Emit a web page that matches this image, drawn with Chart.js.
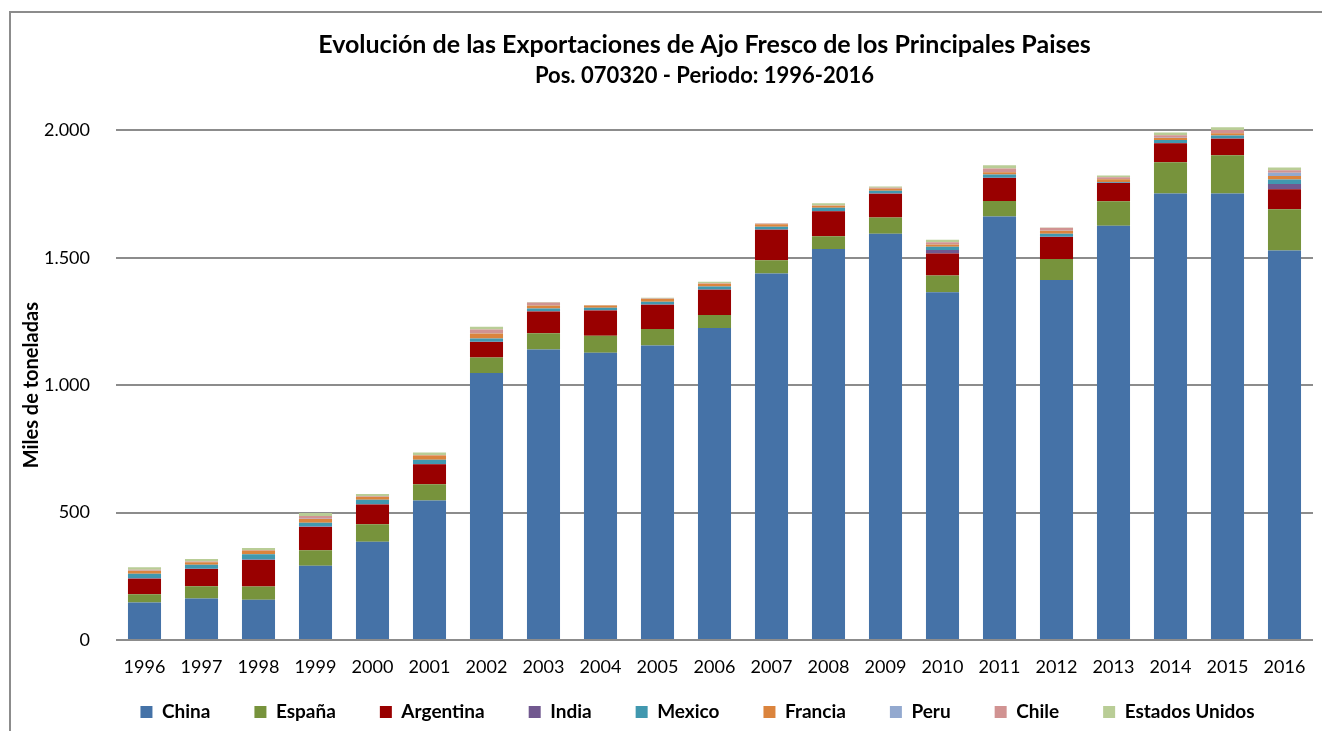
<!DOCTYPE html>
<html>
<head>
<meta charset="utf-8">
<script src="https://cdn.jsdelivr.net/npm/chart.js@4.4.1/dist/chart.umd.min.js"></script>
<style>
  html, body { margin: 0; padding: 0; background: #fff; overflow: hidden; }
  #frame { position: absolute; left: 9px; top: 11px; right: -20px; bottom: -20px; border: 2px solid #8c8c8c; }
  #c { position: absolute; left: 0; top: 0; }
</style>
</head>
<body>
<div id="frame"></div>
<canvas id="c" width="1322" height="731"></canvas>
<script>
const years = ['1996','1997','1998','1999','2000','2001','2002','2003','2004','2005','2006','2007','2008','2009','2010','2011','2012','2013','2014','2015','2016'];
const seriesNames = ['China','España','Argentina','India','Mexico','Francia','Peru','Chile','Estados Unidos'];
const seriesColors = ['#4572A7','#77933C','#990000','#71588F','#4198AF','#DB843D','#93A9CF','#D19392','#B9CD96'];

const china     = [147,163,158,291,386,547,1048,1140,1127,1156,1224,1438,1535,1594,1365,1662,1413,1626,1752,1752,1529];
const espana    = [33,48,52,61,68,64,61,64,67,65,52,52,50,64,66,61,82,96,123,150,162];
const argentina = [60,68,104,91,78,79,61,85,99,95,99,120,98,93,86,90,87,72,75,65,78];
const india     = [2,1,2,2,1,1,1,1,1,1,1,1,1,1,14,1,1,1,1,1,21];
const mexico    = [18,15,21,15,17,16,12,11,10,11,11,11,12,11,12,13,11,2,11,12,17];
const francia   = [12,10,14,15,12,17,20,12,9,11,11,10,8,8,9,9,12,11,8,9,14];
const peru      = [1,1,1,1,1,0,1,1,0,1,0,0,0,0,1,1,1,1,1,1,13];
const chile     = [3,2,1,11,2,2,15,11,1,1,2,3,1,4,8,13,11,7,10,12,10];
const eeuu      = [10,10,8,11,8,10,10,2,1,2,6,1,9,5,10,13,1,7,11,10,10];

const yTicks = [0, 500, 1000, 1500, 2000];
const titleText = 'Evolución de las Exportaciones de Ajo Fresco de los Principales Paises';
const subtitleText = 'Pos. 070320 - Periodo: 1996-2016';
const yTitle = 'Miles de toneladas';

const seriesValues = [china, espana, argentina, india, mexico, francia, peru, chile, eeuu];
const FONT = 'Lato, "Open Sans", sans-serif';

const datasets = seriesNames.map((name, i) => ({
  label: name,
  data: seriesValues[i],
  backgroundColor: seriesColors[i],
  borderWidth: 0,
  categoryPercentage: 1.0,
  barPercentage: 0.58,
  clip: false
}));

const fmt = v => String(v).replace(/\B(?=(\d{3})+(?!\d))/g, '.');

// small layout nudge: move the legend and title blocks after Chart.js has placed them
const nudge = {
  id: 'nudge',
  afterLayout(chart) {
    const lg = chart.legend;
    if (lg) { lg.top -= 35; lg.bottom -= 35; lg.left += 33; lg.right += 33; }
    chart.boxes.forEach(b => {
      if (b.options && (b.options.text === titleText || b.options.text === subtitleText)) {
        b.left -= 10; b.right -= 10;
      }
    });
  }
};

new Chart(document.getElementById('c'), {
  type: 'bar',
  data: { labels: years, datasets },
  plugins: [nudge],
  options: {
    responsive: false,
    animation: false,
    devicePixelRatio: 1,
    layout: { padding: { left: 16, right: 9, top: 0, bottom: -35.6 } },
    plugins: {
      title: {
        display: true, text: titleText, color: '#000', fullSize: false,
        font: { family: FONT, size: 25, weight: 'bold' },
        padding: { top: 30, bottom: 3 }
      },
      subtitle: {
        display: true, text: subtitleText, color: '#000', fullSize: false,
        font: { family: FONT, size: 22, weight: 'bold' },
        padding: { top: 0, bottom: 41 }
      },
      legend: {
        position: 'bottom', fullSize: true,
        labels: {
          color: '#000', boxWidth: 12, boxHeight: 12, padding: 44,
          font: { family: FONT, size: 19, weight: 'bold', lineHeight: 1.0 }
        }
      },
      tooltip: { enabled: false }
    },
    scales: {
      x: {
        stacked: true,
        grid: { display: false, drawTicks: false },
        border: { display: false },
        ticks: { color: '#000', padding: 16, maxRotation: 0, autoSkip: false, font: { family: FONT, size: 18 } }
      },
      y: {
        stacked: true,
        min: 0, max: 2000,
        afterBuildTicks: s => { s.ticks = yTicks.map(v => ({ value: v })); },
        grid: { color: '#8c8c8c', lineWidth: 2, drawTicks: false },
        border: { display: false },
        ticks: { color: '#000', padding: 26, font: { family: FONT, size: 18 }, callback: v => fmt(v) },
        title: { display: true, text: yTitle, color: '#000', font: { family: FONT, size: 20, weight: 'bold' } },
        afterFit: s => { s.width = 100; }
      }
    }
  }
});
</script>
</body>
</html>
